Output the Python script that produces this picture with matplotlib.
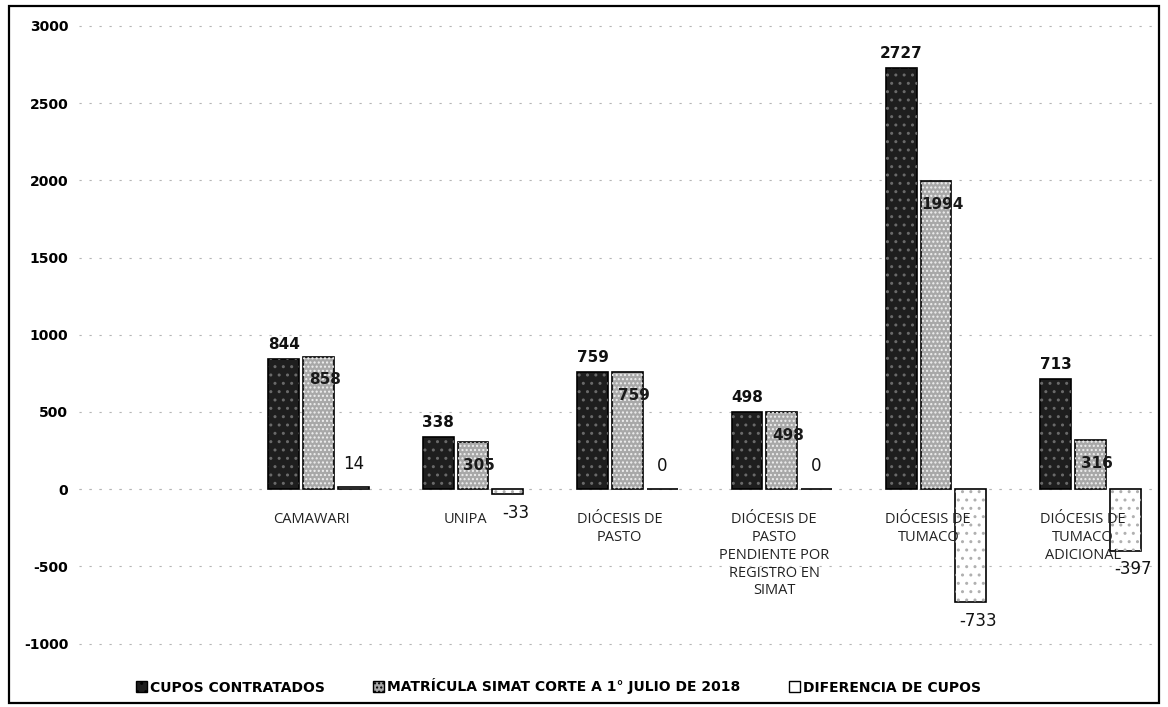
import numpy as np
import matplotlib
matplotlib.use("Agg")
import matplotlib.pyplot as plt
from matplotlib.patches import Rectangle, Patch

categories = ["CAMAWARI", "UNIPA", "DIÓCESIS DE\nPASTO",
              "DIÓCESIS DE\nPASTO\nPENDIENTE POR\nREGISTRO EN\nSIMAT",
              "DIÓCESIS DE\nTUMACO", "DIÓCESIS DE\nTUMACO\nADICIONAL"]
cupos = [844, 338, 759, 498, 2727, 713]
matricula = [858, 305, 759, 498, 1994, 316]
diferencia = [14, -33, 0, 0, -733, -397]
series_names = ["CUPOS CONTRATADOS", "MATRÍCULA SIMAT CORTE A 1° JULIO DE 2018",
                "DIFERENCIA DE CUPOS"]
yticks = [-1000, -500, 0, 500, 1000, 1500, 2000, 2500, 3000]

fig = plt.figure(figsize=(11.68, 7.07), dpi=100)
ax = fig.add_axes([0.068, 0.059, 0.925, 0.92])

x = np.arange(len(categories))
w = 0.2
off = 0.225

def hatched_bars(xs, vals, face, hatch, hcol):
    ax.bar(xs, vals, w, color=face, edgecolor="black", linewidth=1.2, zorder=3)
    ax.bar(xs, vals, w, color="none", edgecolor=hcol, hatch=hatch, linewidth=0, zorder=4)

hatched_bars(x - off, cupos, "#1e1e1e", "..", "#6a6a6a")
hatched_bars(x, matricula, "#a8a8a8", "....", "#f0f0f0")
hatched_bars(x + off, diferencia, "white", "..", "#b0b0b0")

# data labels
for xi, v in zip(x - off, cupos):
    ax.text(xi, v + 45, str(v), ha="center", va="bottom", fontsize=11,
            fontweight="bold", color="#111111", zorder=6)
for xi, v in zip(x, matricula):
    ax.text(xi + 0.04, v - 150, str(v), ha="center", va="center", fontsize=11,
            fontweight="bold", color="#1a1a1a", zorder=6)
for xi, v in zip(x + off, diferencia):
    if v >= 0:
        ax.text(xi, v + 90, str(v), ha="center", va="bottom", fontsize=12,
                color="#111111", zorder=6)
    else:
        ax.text(xi + 0.05, v - 60, str(v), ha="center", va="top", fontsize=12,
                color="#111111", zorder=6)

# category labels under the zero line
for xi, lab in zip(x, categories):
    ax.text(xi - 0.05, -150, lab, ha="center", va="top", fontsize=10.5,
            color="#222222", linespacing=1.25, zorder=5, family="Open Sans")

ax.set_xlim(-1.55, 5.45)
ax.set_ylim(-1140, 3071)
ax.set_yticks(yticks)
ax.set_yticklabels([str(t) for t in yticks], fontsize=10, fontweight="bold")
ax.tick_params(axis="y", length=0, pad=8)
ax.set_xticks([])
for s in ax.spines.values():
    s.set_visible(False)
ax.grid(axis="y", color="#b5b5b5", linestyle=(0, (2, 7)), linewidth=0.8, zorder=0)
ax.axhline(0, color="#c8c8c8", linestyle=(0, (2, 7)), linewidth=0.8, zorder=1)

handles = [Patch(facecolor="#1e1e1e", edgecolor="black", hatch=".."),
           Patch(facecolor="#a8a8a8", edgecolor="black", hatch="...."),
           Patch(facecolor="white", edgecolor="black")]
leg = fig.legend(handles, series_names, loc="lower center", ncol=3,
                 bbox_to_anchor=(0.478, 0.0), frameon=False, handlelength=0.8,
                 handleheight=0.8, handletextpad=0.2, columnspacing=3.5,
                 prop={"size": 10, "weight": "bold"})

fig.patches.append(Rectangle((0.008, 0.006), 0.984, 0.986, transform=fig.transFigure,
                             fill=False, edgecolor="black", linewidth=1.6))

fig.savefig("out.png", dpi=100)
